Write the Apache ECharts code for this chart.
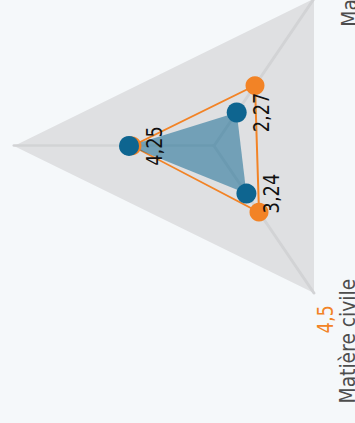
<!DOCTYPE html>
<html><head><meta charset="utf-8">
<script src="https://cdn.jsdelivr.net/npm/echarts@6/dist/echarts.min.js"></script>
<style>
html,body{margin:0;padding:0;width:355px;height:423px;overflow:hidden;background:#f5f8fa;}
#chart{position:absolute;left:0;top:0;width:498px;height:355px;transform-origin:0 0;transform:matrix(0,-0.85,1,0,0,423);}
</style></head><body><div id="chart"></div>
<script>
const indicatorNames = ['Matière pénale', 'Matière civile', 'Matière administrative'];
const indicatorMax = [10, 10, 10];
const scoreValues = [4.25, 3.24, 2.27];
const referenceValues = [4.1, 4.5, 4.1];
const showReferenceInName = [false, true, false];

const fmt = v => String(v).replace('.', ',');
const FONT = 'DejaVu Sans';
const chart = echarts.init(document.getElementById('chart'), null, {renderer: 'svg', width: 498, height: 355});
chart.setOption({
  backgroundColor: '#f5f8fa',
  animation: false,
  radar: {
    center: [326, 214],
    radius: 200,
    startAngle: 90,
    splitNumber: 1,
    shape: 'polygon',
    indicator: indicatorNames.map((n, i) => ({name: n, min: 0, max: indicatorMax[i]})),
    nameGap: -38,
    axisName: {
      color: '#4d4d4d',
      fontFamily: FONT,
      fontSize: 22,
      padding: [84, 0, 0, 0],
      formatter: function (name) {
        const i = indicatorNames.indexOf(name);
        if (i === 0) return '{n0|' + name + '}';
        if (showReferenceInName[i]) return '{v|' + fmt(referenceValues[i]) + '}\n{n|' + name + '}';
        return '{n2|' + name + '}';
      },
      rich: {
        v: {color: '#f28326', fontFamily: FONT, fontSize: 21, padding: [0, 47, 0, 0]},
        n: {color: '#4d4d4d', fontFamily: FONT, fontSize: 22, padding: [0, 16, 0, 0]},
        n2: {color: '#4d4d4d', fontFamily: FONT, fontSize: 22, padding: [25, 0, 0, 0]},
        n0: {color: '#4d4d4d', fontFamily: FONT, fontSize: 22, padding: [0, 0, 100, 0]}
      }
    },
    splitArea: {show: true, areaStyle: {color: ['#dfe0e2']}},
    splitLine: {show: false},
    axisLine: {show: true, lineStyle: {color: '#d2d3d5', width: 3}},
    axisTick: {show: false},
    axisLabel: {show: false}
  },
  series: [{
    type: 'radar',
    data: [
      {
        value: referenceValues, name: 'Référence', symbol: 'circle', symbolSize: [22, 19],
        itemStyle: {color: '#f28326'},
        lineStyle: {color: '#f28326', width: 2},
        label: {show: false}
      },
      {
        value: scoreValues, name: 'Score', symbol: 'circle', symbolSize: [23.5, 20],
        itemStyle: {color: '#0e6590'},
        lineStyle: {width: 0, opacity: 0},
        areaStyle: {color: '#0e6590', opacity: 0.52},
        label: {
          show: true, position: 'bottom', distance: 5, color: '#111',
          fontFamily: FONT, fontSize: 21,
          formatter: p => fmt(p.value)
        }
      }
    ]
  }]
});
</script></body></html>
